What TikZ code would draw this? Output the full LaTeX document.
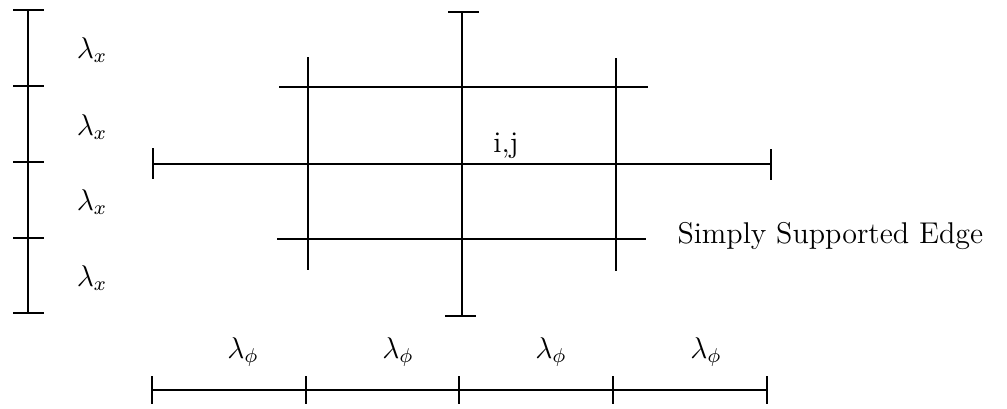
\documentclass[tikz,border=0pt]{standalone}
\begin{document}
\begin{tikzpicture}[x=0.4pt,y=-0.4pt,
  ln/.style={line width=1.1pt},
  lbl/.style={font=\fontsize{12}{14}\selectfont, inner sep=0pt}]
\useasboundingbox (0,0) rectangle (1007,408);
% left dimension line
\coordinate (L0) at (28,10);
\coordinate (L4) at (28,313);
\draw[ln] (L0) -- (L4);
\foreach \y in {10,86,162,238,313} \draw[ln] (13,\y) -- (44,\y);
\foreach \y/\n in {50/a,127/b,202/c,278/d}
  \node[lbl] (lx\n) at (92,\y) {$\lambda_x$};
% grid horizontals
\coordinate (T1) at (279,87);  \coordinate (T2) at (648,87);
\coordinate (M1) at (153,164); \coordinate (M2) at (771,164);
\coordinate (B1) at (277,239); \coordinate (B2) at (646,239);
\draw[ln] (T1) -- (T2);
\draw[ln] (M1) -- (M2);
\draw[ln] (B1) -- (B2);
\draw[ln] (153,148) -- (153,179);
\draw[ln] (771,149) -- (771,180);
% grid verticals
\coordinate (V1a) at (308,57);  \coordinate (V1b) at (308,270);
\coordinate (V2a) at (462,12);  \coordinate (V2b) at (462,316);
\coordinate (V3a) at (616,58);  \coordinate (V3b) at (616,271);
\draw[ln] (V1a) -- (V1b);
\draw[ln] (V2a) -- (V2b);
\draw[ln] (V3a) -- (V3b);
\draw[ln] (448,12) -- (479,12);
\draw[ln] (445,316) -- (476,316);
% labels
\node[lbl] (ij) at (506,146) {i,j};
\node[lbl, anchor=base west] (sse) at (677,243) {Simply Supported Edge};
% bottom dimension line
\coordinate (D0) at (152,390); \coordinate (D4) at (767,390);
\draw[ln] (D0) -- (D4);
\foreach \x in {152,306,459,613,767} \draw[ln] (\x,376) -- (\x,404);
\foreach \x/\n in {243/a,398/b,551/c,706/d}
  \node[lbl] (lp\n) at (\x,352) {$\lambda_\phi$};
\end{tikzpicture}
\end{document}
